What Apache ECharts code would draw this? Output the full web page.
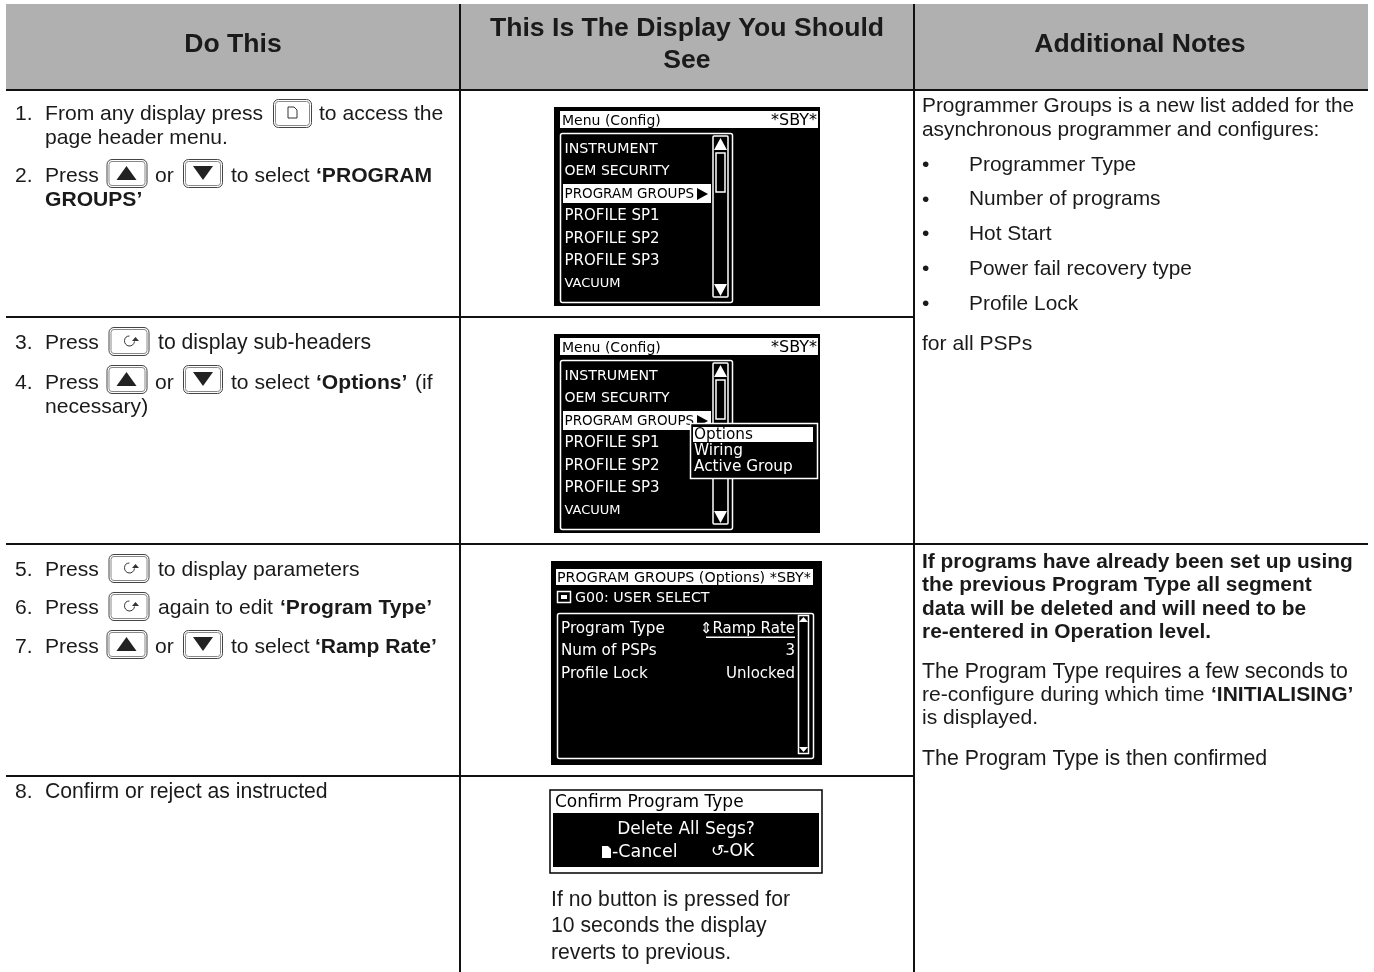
<!DOCTYPE html>
<html><head><meta charset="utf-8">
<style>html,body{margin:0;padding:0;background:#fff}#c{width:1374px;height:972px}</style>
<script src="https://cdn.jsdelivr.net/npm/echarts@6/dist/echarts.min.js"></script>
</head><body><div id="c"></div>
<script>
const headers = ["Do This", "This Is The Display You Should", "See", "Additional Notes"];
const stepNumbers = ["1.", "2.", "3.", "4.", "5.", "6.", "7.", "8."];
const stepWords = ["From any display press", "to access the", "page header menu.", "Press", "or", "to select",
  "to display sub-headers", "(if", "necessary)", "to display parameters", "again to edit", "Confirm or reject as instructed"];
const stepBold = ["‘PROGRAM", "GROUPS’", "‘Options’", "‘Program Type’", "‘Ramp Rate’"];
const menuTitle = ["Menu (Config)", "*SBY*"];
const menuItems = ["INSTRUMENT", "OEM SECURITY", "PROGRAM GROUPS", "PROFILE SP1", "PROFILE SP2", "PROFILE SP3", "VACUUM"];
const subMenu = ["Options", "Wiring", "Active Group"];
const paramTitle = ["PROGRAM GROUPS (Options) *SBY*", "G00: USER SELECT"];
const paramNames = ["Program Type", "Num of PSPs", "Profile Lock"];
const paramValues = ["⇕Ramp Rate", "3", "Unlocked"];
const confirmTexts = ["Confirm Program Type", "Delete All Segs?", "-Cancel", "-OK"];
const displayNote = ["If no button is pressed for", "10 seconds the display", "reverts to previous."];
const notesTop = ["Programmer Groups is a new list added for the", "asynchronous programmer and configures:"];
const notesBullets = ["Programmer Type", "Number of programs", "Hot Start", "Power fail recovery type", "Profile Lock"];
const notesTail = ["for all PSPs"];
const notesWarning = ["If programs have already been set up using", "the previous Program Type all segment",
  "data will be deleted and will need to be", "re-entered in Operation level."];
const notesBody = ["The Program Type requires a few seconds to", "re-configure during which time", "‘INITIALISING’", "is displayed.", "The Program Type is then confirmed"];

const els = [];
const SANS = '"Liberation Sans", Arial, sans-serif';
const LCD = '"DejaVu Sans", sans-serif';
const BODY = 21.1, BOLD = 21.1, HEAD = 26.6, LCDS = 14;
function rect(x, y, w, h, fill, stroke, lw, r) {
  els.push({ type: 'rect', silent: true, shape: { x, y, width: w, height: h, r: r || 0 },
    style: { fill: fill || 'none', stroke: stroke || 'none', lineWidth: lw || 0 } });
}
function text(x, y, s, o) {
  o = o || {};
  els.push({ type: 'text', silent: true, x, y: y + 1, style: { text: s, fill: o.fill || '#1a1a1a',
    font: (o.bold ? 'bold ' : '') + (o.size || (o.bold ? BOLD : BODY)) + 'px ' + (o.family || SANS),
    textAlign: o.align || 'left', textVerticalAlign: 'middle', verticalAlign: 'middle' } });
}
const lcd = (x, y, s, fill, align, size) => text(x, y, s, { family: LCD, size: size || LCDS, fill: fill || '#fff', align });
function tri(pts, fill) { els.push({ type: 'polygon', silent: true, shape: { points: pts }, style: { fill: fill || '#222' } }); }
function key(x, y, w, h) {
  rect(x + .5, y + .5, w, h, '#fff', '#444', 1, 5);
  rect(x + 2.5, y + 2.5, w - 4, h - 4, '#fff', '#888', 1, 3);
}
function upKey(x, y) { key(x, y, 40, 28); tri([[x + 20, y + 7], [x + 30, y + 21], [x + 10, y + 21]]); }
function downKey(x, y) { key(x, y, 39, 28); tri([[x + 10, y + 7], [x + 30, y + 7], [x + 20, y + 21]]); }
function scrollKey(x, y) {
  key(x, y, 40, 28);
  els.push({ type: 'arc', silent: true, shape: { cx: x + 21, cy: y + 14, r: 5, startAngle: 0.1, endAngle: 4.7 },
    style: { fill: 'none', stroke: '#333', lineWidth: 1 } });
  tri([[x + 27, y + 10], [x + 23.5, y + 14], [x + 30.5, y + 14]], '#333');
}
function pageKey(x, y) {
  key(x, y, 38, 28);
  els.push({ type: 'polygon', silent: true, shape: { points: [[x + 15, y + 8], [x + 21, y + 8], [x + 24, y + 11], [x + 24, y + 19], [x + 15, y + 19]] },
    style: { fill: '#fff', stroke: '#333', lineWidth: 1 } });
}

/* table frame */
rect(6, 4, 1362, 85, '#b0b0b0');
const hline = (x0, x1, y) => rect(x0, y, x1 - x0, 2, '#111');
hline(6, 1368, 89); hline(6, 914, 316); hline(6, 1368, 543); hline(6, 914, 775);
rect(459, 4, 2, 968, '#111'); rect(913, 4, 2, 968, '#111');

/* headers */
text(233, 44, headers[0], { bold: true, size: HEAD, align: 'center' });
text(687, 28, headers[1], { bold: true, size: HEAD, align: 'center' });
text(687, 60, headers[2], { bold: true, size: HEAD, align: 'center' });
text(1140, 44, headers[3], { bold: true, size: HEAD, align: 'center' });

/* first column */
[113, 175, 342, 382, 569, 607, 646, 791].forEach((y, i) => text(15, y, stepNumbers[i]));
text(45, 113, stepWords[0]); pageKey(273, 99); text(319, 113, stepWords[1]);
text(45, 137, stepWords[2]);
[[175, 159], [382, 365], [646, 630]].forEach(([y, ky]) => {
  text(45, y, stepWords[3]); upKey(106.5, ky); text(155, y, stepWords[4]); downKey(183, ky);
  text(231, y, stepWords[5]);
});
text(316, 175, stepBold[0], { bold: true }); text(45, 199, stepBold[1], { bold: true });
text(45, 342, stepWords[3]); scrollKey(108.5, 327); text(158, 342, stepWords[6], { size: 21.2 });
text(316, 382, stepBold[2], { bold: true }); text(415, 382, stepWords[7]); text(45, 406, stepWords[8]);
text(45, 569, stepWords[3]); scrollKey(108.5, 554); text(158, 569, stepWords[9]);
text(45, 607, stepWords[3]); scrollKey(108.5, 592); text(158, 607, stepWords[10]);
text(280, 607, stepBold[3], { bold: true });
text(315, 646, stepBold[4], { bold: true });
text(45, 791, stepWords[11], { size: 21.2 });

/* menu displays */
const menuSizes = [14.2, 14, 13.5, 15, 15, 15, 13];
function menu(oy) {
  rect(554, 107 + oy, 266, 199, '#000');
  rect(560, 111 + oy, 258, 17, '#fff');
  lcd(562, 120 + oy, menuTitle[0], '#000');
  lcd(817, 120 + oy, menuTitle[1], '#000', 'right', 16);
  rect(560.5, 133.5 + oy, 172, 169, 'none', '#fff', 1.5, 2);
  rect(563, 184 + oy, 148, 19, '#fff');
  menuItems.forEach((m, i) => lcd(564.5, 148 + i * 22.5 + oy, m, i === 2 ? '#000' : '#fff', 'left', menuSizes[i]));
  tri([[697, 188 + oy], [708, 194 + oy], [697, 200 + oy]], '#000');
  rect(713, 136 + oy, 15, 161, 'none', '#fff', 1.5, 1);
  tri([[720.5, 138 + oy], [727, 150 + oy], [714, 150 + oy]], '#fff');
  tri([[714, 284 + oy], [727, 284 + oy], [720.5, 296 + oy]], '#fff');
  rect(716, 153 + oy, 9, 39, '#000', '#fff', 1.5);
}
menu(0); menu(227);
rect(690.5, 423.5, 127, 55, '#000', '#fff', 1.5);
rect(693, 427, 120, 15, '#fff');
subMenu.forEach((m, i) => lcd(694, 434 + i * 16, m, i === 0 ? '#000' : '#fff', 'left', 15.3));

/* parameter display */
rect(551, 561, 271, 204, '#000');
rect(556, 569, 257, 16, '#fff');
lcd(557, 577, paramTitle[0], '#000', 'left', 14.3);
rect(557.5, 591.5, 13, 11, '#000', '#fff', 1.5); rect(561, 595, 6, 4, '#fff');
lcd(575, 597, paramTitle[1], '#fff', 'left', 14.2);
rect(557.5, 613.5, 256, 145, 'none', '#fff', 1.5, 2);
paramNames.forEach((p, i) => {
  lcd(561, 628 + i * 22.5, p, '#fff', 'left', 15.2);
  lcd(795, 628 + i * 22.5, paramValues[i], '#fff', 'right', 15);
});
rect(706, 636.5, 89, 1.5, '#fff');
rect(798.5, 615.5, 10, 138, 'none', '#fff', 1.5);
tri([[803.5, 617], [808, 622], [799, 622]], '#fff');
tri([[799, 747], [808, 747], [803.5, 752]], '#fff');

/* confirm display */
rect(550, 790, 272, 83, '#fff', '#000', 1.5);
rect(553, 813, 266, 54, '#000');
lcd(555, 802, confirmTexts[0], '#000', 'left', 17);
lcd(686, 829, confirmTexts[1], '#fff', 'center', 17);
tri([[602, 846], [608, 846], [611, 849], [611, 858], [602, 858]], '#fff');
lcd(612, 851, confirmTexts[2], '#fff', 'left', 17.5);
lcd(711, 851, '↺', '#fff', 'left', 16);
lcd(723, 851, confirmTexts[3], '#fff', 'left', 17);
displayNote.forEach((s, i) => text(551, [899, 925, 952][i], s, { size: 21.2 }));

/* third column */
notesTop.forEach((s, i) => text(922, 105 + i * 24, s, { size: 20.85 }));
notesBullets.forEach((s, i) => { text(922, 164 + i * 34.7, '•'); text(969, 164 + i * 34.7, s, { size: 20.9 }); });
text(922, 343, notesTail[0]);
notesWarning.forEach((s, i) => text(922, 561 + i * 23.4, s, { bold: true, size: 20.9 }));
text(922, 671, notesBody[0], { size: 21.35 });
text(922, 694, notesBody[1], { size: 21.1 });
text(1211, 694, notesBody[2], { bold: true, size: 21 });
text(922, 717, notesBody[3]);
text(922, 758, notesBody[4], { size: 21.35 });

const chart = echarts.init(document.getElementById('c'), null, { renderer: 'canvas' });
chart.setOption({ animation: false, backgroundColor: '#fff', graphic: { elements: els } });
</script></body></html>
